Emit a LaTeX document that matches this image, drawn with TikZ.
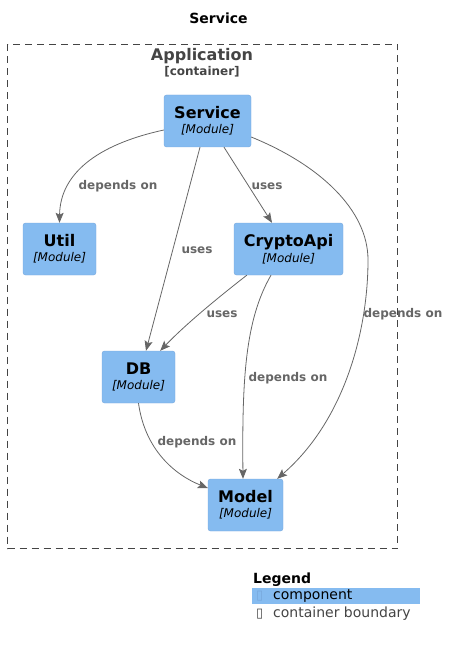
\documentclass[tikz,border=0pt]{standalone}
\usepackage{fontspec}
\setmainfont{DejaVu Sans}
\usetikzlibrary{arrows.meta,positioning,calc}
\definecolor{azulc4}{HTML}{85BBF0}
\definecolor{bordec4}{HTML}{78A8DC}
\definecolor{gris}{HTML}{666666}
\definecolor{grisosc}{HTML}{444444}
\tikzset{
  modulo/.style={
    rectangle, rounded corners=2.5pt, fill=azulc4, draw=bordec4,
    align=center, inner sep=0pt, minimum height=52pt},
  limite/.style={draw=grisosc, line width=0.9pt, dash pattern=on 7pt off 5pt},
  flecha/.style={-{Stealth[length=10pt,width=8pt,inset=2pt]}, draw=gris,
    line width=0.8pt},
  etiq/.style={font=\fontsize{12}{14}\selectfont\bfseries, text=gris, inner sep=0pt}
}
\newcommand{\modtxt}[1]{{\fontsize{16}{18}\selectfont\bfseries #1}\\[3pt]
  {\fontsize{12}{14}\selectfont\itshape [Module]}}

\begin{document}
\begin{tikzpicture}[x=1pt,y=1pt]
\useasboundingbox (0,0) rectangle (449,-647);

% Titulo
\node[font=\fontsize{14}{16}\selectfont\bfseries] (titulo) at (218.5,-18) {Service};

% Contenedor
\draw[limite] (7.5,-44.5) rectangle (397.5,-548.5);
\node[font=\fontsize{16}{18}\selectfont\bfseries, text=grisosc] (app) at (202,-56) {Application};
\node[font=\fontsize{12}{14}\selectfont\bfseries, text=grisosc] (tipo) at (202,-72) {[container]};

% Modulos
\node[modulo, minimum width=87pt] (svc) at (207.5,-121) {\modtxt{Service}};
\node[modulo, minimum width=73pt] (util) at (59.5,-249) {\modtxt{Util}};
\node[modulo, minimum width=109pt] (crypto) at (288.5,-249) {\modtxt{CryptoApi}};
\node[modulo, minimum width=73pt] (db) at (138.5,-377) {\modtxt{DB}};
\node[modulo, minimum width=75pt] (model) at (245.5,-505) {\modtxt{Model}};

% Relaciones
\draw[flecha] ([yshift=-9pt]svc.west) .. controls (95,-145) and (60,-175) .. (util.north);
\node[etiq] (e1) at (118,-186) {depends on};

\draw[flecha] ([xshift=-7.5pt]svc.south) -- ([xshift=7.5pt]db.north);
\node[etiq] (e2) at (197,-250) {uses};

\draw[flecha] ([xshift=16.5pt]svc.south) -- ([xshift=-16.5pt]crypto.north);
\node[etiq] (e3) at (267,-186) {uses};

\draw[flecha] ([yshift=-16pt]svc.east) .. controls (320,-165) and (368,-210) .. (368,-260)
  .. controls (368,-330) and (345,-420) .. ([xshift=-6pt]model.north east);
\node[etiq] (e4) at (403,-314) {depends on};

\draw[flecha] ([xshift=13pt]crypto.south west) .. controls (215,-300) and (185,-325) .. ([xshift=-15pt]db.north east);
\node[etiq] (e5) at (222,-314) {uses};

\draw[flecha] ([xshift=-17.5pt]crypto.south) .. controls (245,-320) and (242,-380) .. ([xshift=-2.5pt]model.north);
\node[etiq] (e6) at (288,-378) {depends on};

\draw[flecha] (db.south) .. controls (145,-450) and (175,-475) .. ([yshift=17pt]model.west);
\node[etiq] (e7) at (197,-442) {depends on};

% Leyenda
\node[font=\fontsize{14}{16}\selectfont\bfseries, anchor=west, inner sep=0pt] (ley) at (253,-580) {Legend};
\fill[azulc4] (252,-588) rectangle (420,-604);
\node[anchor=west, inner sep=0pt, font=\fontsize{13}{15}\selectfont, text=bordec4] (s1) at (256,-596.5) {▯};
\node[anchor=west, inner sep=0pt, font=\fontsize{14}{16}\selectfont] (l1) at (273,-596) {component};
\node[anchor=west, inner sep=0pt, font=\fontsize{13}{15}\selectfont, text=grisosc] (s2) at (256,-614.5) {▯};
\node[anchor=west, inner sep=0pt, font=\fontsize{14}{16}\selectfont, text=grisosc] (l2) at (273,-614) {container boundary};

\end{tikzpicture}
\end{document}
